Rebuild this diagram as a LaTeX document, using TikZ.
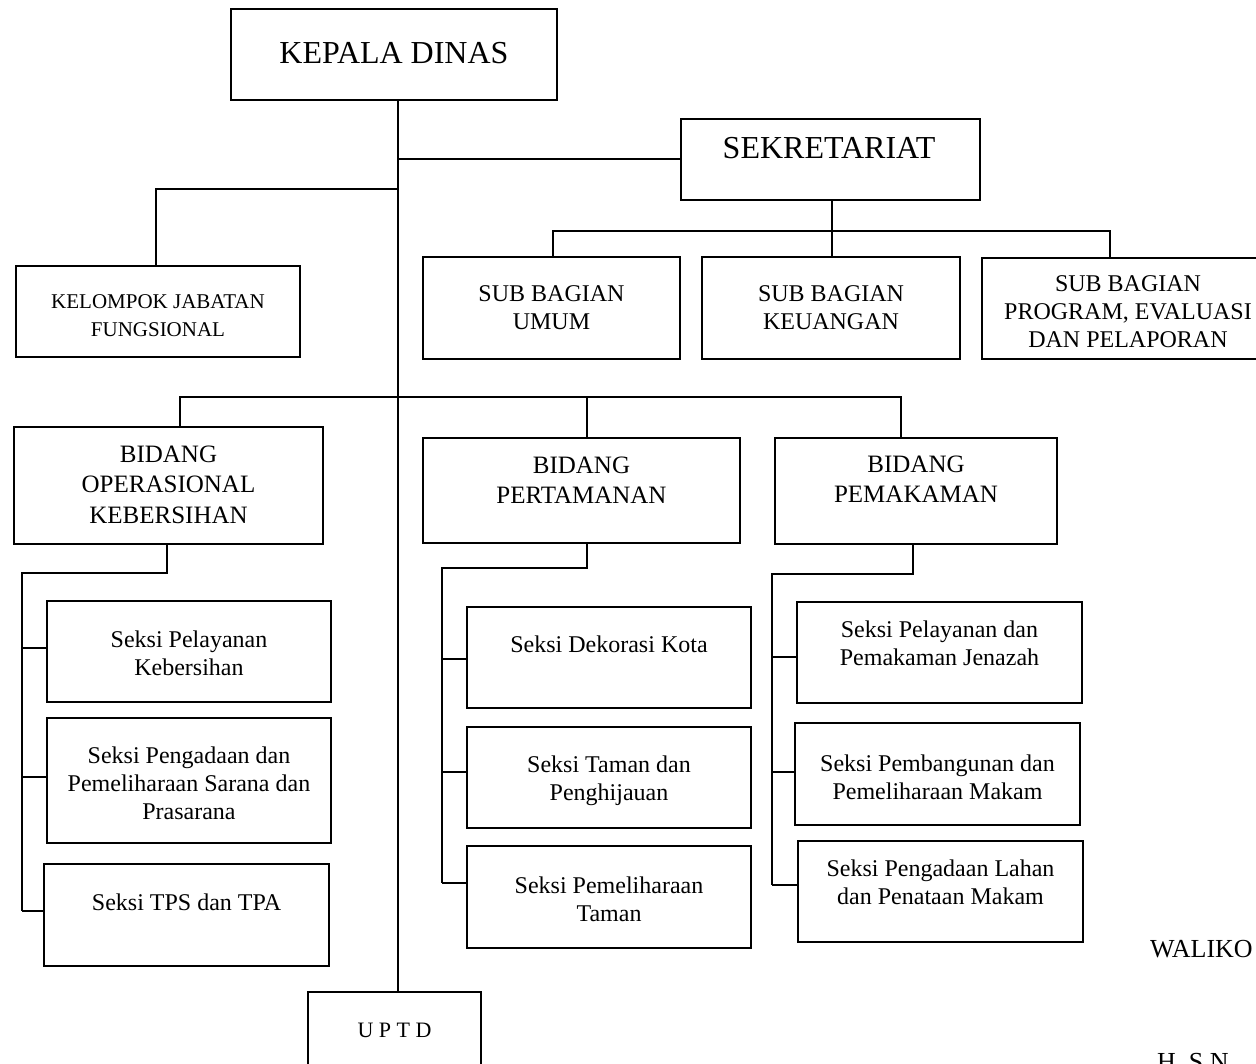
\documentclass[tikz,border=0pt]{standalone}
\usepackage{fontspec}
\setmainfont{Liberation Serif}
\newcommand\ftBig{\fontsize{32}{38}\selectfont}
\newcommand\ftSek{\fontsize{24}{28}\selectfont}
\newcommand\ftKel{\fontsize{21}{28}\selectfont}
\newcommand\ftBid{\fontsize{25}{30.5}\selectfont}
\newcommand\ftUp{\fontsize{22}{26}\selectfont}
\newcommand\ftWal{\fontsize{26}{30}\selectfont}
\newcommand\obox[5]{\node[obox, minimum width={(#4-#2)*1pt}, minimum height={(#5-#3)*1pt}, anchor=north west] (#1) at (#2,#3) {};}
% #4 = baseline of the LAST line
\newcommand\otext[5]{\node[otxt, font=#2] (#1) at (#3,#4) {#5};}
\begin{document}
\begin{tikzpicture}[x=1pt,y=-1pt,
  obox/.style={draw, line width=2pt, inner sep=0pt, outer sep=0pt, rectangle},
  conn/.style={line width=2pt},
  otxt/.style={align=center, anchor=base, inner sep=0pt}]
\useasboundingbox (0,0) rectangle (1256,1064);
% boxes
\obox{kd}{231}{9}{557}{100}
\obox{sek}{681}{119}{980}{200}
\obox{sbu}{423}{257}{680}{359}
\obox{sbk}{702}{257}{960}{359}
\obox{sbp}{982}{258}{1274}{359}
\obox{kjf}{16}{266}{300}{357}
\obox{bok}{14}{427}{323}{544}
\obox{bpt}{423}{438}{740}{543}
\obox{bpm}{775}{438}{1057}{544}
\obox{spk}{47}{601}{331}{702}
\obox{spp}{47}{718}{331}{843}
\obox{stp}{44}{864}{329}{966}
\obox{sdk}{467}{607}{751}{708}
\obox{stm}{467}{727}{751}{828}
\obox{spt}{467}{846}{751}{948}
\obox{spj}{797}{602}{1082}{703}
\obox{spm}{795}{723}{1080}{825}
\obox{slm}{798}{841}{1083}{942}
\obox{uptd}{308}{992}{481}{1090}
% texts (y = baseline of last line)
\otext{kd-t}{\ftBig}{394}{64}{KEPALA DINAS}
\otext{sek-t}{\ftBig}{829}{159}{SEKRETARIAT}
\otext{sbu-t}{\ftSek}{551.5}{330}{SUB BAGIAN\\UMUM}
\otext{sbk-t}{\ftSek}{831}{330}{SUB BAGIAN\\KEUANGAN}
\otext{sbp-t}{\ftSek}{1128}{348}{SUB BAGIAN\\PROGRAM, EVALUASI\\DAN PELAPORAN}
\otext{kjf-t}{\ftKel}{158}{337}{KELOMPOK JABATAN\\FUNGSIONAL}
\otext{bok-t}{\ftBid}{168.5}{523}{BIDANG\\OPERASIONAL\\KEBERSIHAN}
\otext{bpt-t}{\ftBid}{581.5}{503.5}{BIDANG\\PERTAMANAN}
\otext{bpm-t}{\ftBid}{916}{502.5}{BIDANG\\PEMAKAMAN}
\otext{spk-t}{\ftSek}{189}{675}{Seksi Pelayanan\\Kebersihan}
\otext{spp-t}{\ftSek}{189}{819}{Seksi Pengadaan dan\\Pemeliharaan Sarana dan\\Prasarana}
\otext{stp-t}{\ftSek}{186.5}{910}{Seksi TPS dan TPA}
\otext{sdk-t}{\ftSek}{609}{652}{Seksi Dekorasi Kota}
\otext{stm-t}{\ftSek}{609}{800}{Seksi Taman dan\\Penghijauan}
\otext{spt-t}{\ftSek}{609}{921}{Seksi Pemeliharaan\\Taman}
\otext{spj-t}{\ftSek}{939.5}{665}{Seksi Pelayanan dan\\Pemakaman Jenazah}
\otext{spm-t}{\ftSek}{937.5}{799}{Seksi Pembangunan dan\\Pemeliharaan Makam}
\otext{slm-t}{\ftSek}{940.5}{904}{Seksi Pengadaan Lahan\\dan Penataan Makam}
\otext{uptd-t}{\ftUp}{394.5}{1037}{U P T D}
\node[inner sep=0pt, anchor=base west, font=\ftWal] (wali) at (1150,957) {WALIKO};
\node[inner sep=0pt, anchor=base west, font=\ftWal] (hsn) at (1157,1070) {H. S.N};
% connectors
\coordinate (T) at (398,0);
\draw[conn] (T |- kd.south) -- (T |- uptd.north);
\draw[conn] (T |- sek.west) -- (sek.west);
\coordinate (kj) at (398,189);
\coordinate (kjx) at (156,189);
\draw[conn] (kj) -- (kjx) -- (kjx |- kjf.north);
\coordinate (sa) at (832,231);
\coordinate (sl) at (553,231);
\coordinate (sr) at (1110,231);
\draw[conn] (sa |- sek.south) -- (sa |- sbk.north);
\draw[conn] (sl |- sbu.north) -- (sl) -- (sr) -- (sr |- sbp.north);
\coordinate (bl) at (180,397);
\coordinate (bm) at (587,397);
\coordinate (br) at (901,397);
\draw[conn] (bl |- bok.north) -- (bl) -- (br) -- (br |- bpm.north);
\draw[conn] (bm) -- (bm |- bpt.north);
% left column
\coordinate (la) at (167,573);
\coordinate (lc) at (22,573);
\coordinate (l1) at (22,648);
\coordinate (l2) at (22,777);
\coordinate (l3) at (22,911);
\draw[conn] (la |- bok.south) -- (la) -- (lc) -- (l3);
\draw[conn] (l1) -- (l1 -| spk.west);
\draw[conn] (l2) -- (l2 -| spp.west);
\draw[conn] (l3) -- (l3 -| stp.west);
% middle column
\coordinate (ma) at (587,568);
\coordinate (mc) at (442,568);
\coordinate (m1) at (442,659);
\coordinate (m2) at (442,772);
\coordinate (m3) at (442,883);
\draw[conn] (ma |- bpt.south) -- (ma) -- (mc) -- (m3);
\draw[conn] (m1) -- (m1 -| sdk.west);
\draw[conn] (m2) -- (m2 -| stm.west);
\draw[conn] (m3) -- (m3 -| spt.west);
% right column
\coordinate (ra) at (913,574);
\coordinate (rc) at (772,574);
\coordinate (r1) at (772,657);
\coordinate (r2) at (772,772);
\coordinate (r3) at (772,885);
\draw[conn] (ra |- bpm.south) -- (ra) -- (rc) -- (r3);
\draw[conn] (r1) -- (r1 -| spj.west);
\draw[conn] (r2) -- (r2 -| spm.west);
\draw[conn] (r3) -- (r3 -| slm.west);
\end{tikzpicture}
\end{document}
